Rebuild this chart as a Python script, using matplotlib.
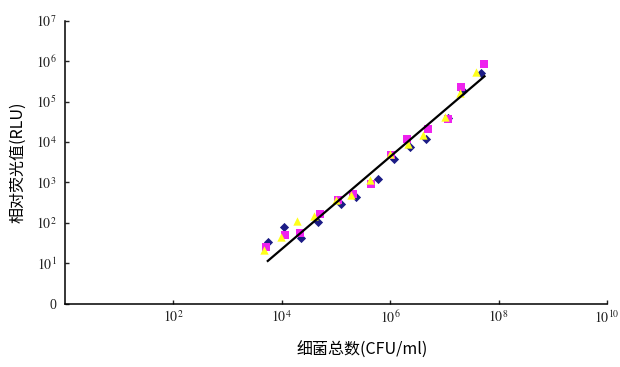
import math

import matplotlib
matplotlib.use("Agg")
import matplotlib.pyplot as plt
from matplotlib.ticker import FixedLocator, FuncFormatter

# bacterial count (CFU/ml) and relative luminescence (RLU), three replicates
cfu_a = [5546, 10940, 22910, 46340, 121600, 230100, 592900, 1.156e6, 2.28e6,
         4.63e6, 1.146e7, 2.19e7, 4.80e7]
rlu_a = [34.2, 77.4, 43.0, 106, 290, 440, 1247, 3882, 7482, 12050, 38100,
         186600, 517600]

cfu_b = [5176, 11270, 21280, 49770, 108400, 205100, 447700, 1.047e6, 2.03e6,
         4.97e6, 1.161e7, 1.99e7, 5.28e7]
rlu_b = [25.8, 50.1, 55.1, 161.8, 375, 533, 940, 4677, 12050, 21280, 37500,
         224900, 849300]

cfu_c = [4677, 9506, 19010, 39080, 101400, 191400, 416900, 975000, 2.12e6,
         4.01e6, 1.009e7, 1.905e7, 3.88e7]
rlu_c = [21.4, 45.5, 110.7, 149.6, 364.8, 484, 1132, 5152, 9078, 14550,
         41020, 160000, 527200]

# fitted line end points
fit_x = [5.5e3, 5.5e7]
fit_y = [11.5, 4.2e5]

x_ticks = [1e2, 1e4, 1e6, 1e8, 1e10]
y_ticks = [1e0, 1e1, 1e2, 1e3, 1e4, 1e5, 1e6, 1e7]

plt.rcParams["mathtext.fontset"] = "stix"
plt.rcParams["font.family"] = ["Liberation Serif", "Noto Sans CJK SC"]

fig = plt.figure(figsize=(6.2, 3.67), dpi=100)
ax = fig.add_axes([0.105, 0.172, 0.874, 0.772])

ax.scatter(cfu_a, rlu_a, marker="D", s=22, color="#1c1c86", zorder=3, linewidths=0)
ax.scatter(cfu_b, rlu_b, marker="s", s=28, color="#ee22ee", zorder=4, linewidths=0)
ax.scatter(cfu_c, rlu_c, marker="^", s=36, color="#ffff1a", zorder=5, linewidths=0)
ax.plot(fit_x, fit_y, color="black", lw=1.6, zorder=6)

ax.set_xscale("log")
ax.set_yscale("log")
ax.set_xlim(1, 1e10)
ax.set_ylim(1, 1e7)

ax.xaxis.set_major_locator(FixedLocator(x_ticks))
ax.yaxis.set_major_locator(FixedLocator(y_ticks))
ax.xaxis.set_minor_locator(FixedLocator([]))
ax.yaxis.set_minor_locator(FixedLocator([]))


def pow_label(v, pos):
    if v == 1:
        return "0"
    return r"$10^{%d}$" % round(math.log10(v))


ax.xaxis.set_major_formatter(FuncFormatter(pow_label))
ax.yaxis.set_major_formatter(FuncFormatter(pow_label))

for side in ("top", "right"):
    ax.spines[side].set_visible(False)
ax.spines["left"].set_linewidth(1.1)
ax.spines["bottom"].set_linewidth(1.1)
ax.tick_params(direction="in", length=3, width=1, labelsize=10, colors="#222222")
ax.tick_params(axis="x", pad=4)
ax.tick_params(axis="y", pad=6)

ax.set_xlabel("细菌总数(CFU/ml)", fontsize=11.5, family=["Noto Sans CJK SC"])
ax.xaxis.set_label_coords(0.548, -0.135)
ax.set_ylabel("相对荧光值(RLU)", fontsize=11.5, family=["Noto Sans CJK SC"])
ax.yaxis.set_label_coords(-0.072, 0.5)

fig.savefig("out.png", dpi=100)
